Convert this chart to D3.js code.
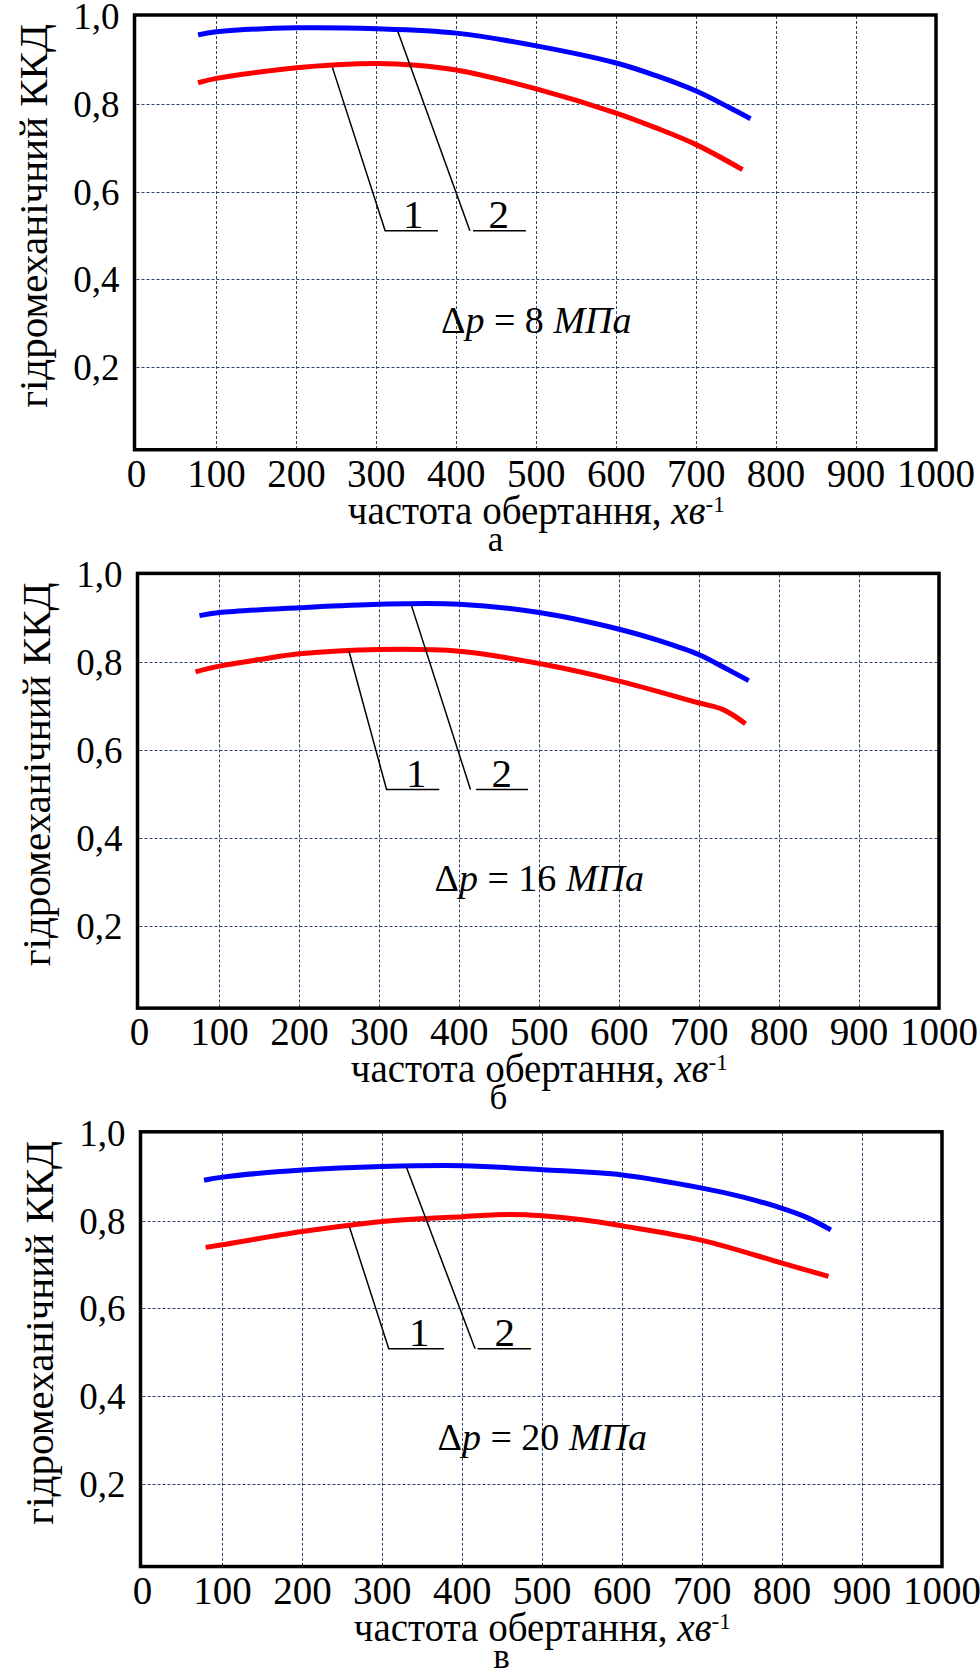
<!DOCTYPE html>
<html><head><meta charset="utf-8">
<script src="https://cdn.jsdelivr.net/npm/d3@7/dist/d3.min.js"></script>
<style>body{margin:0;background:#fff} svg{display:block}</style>
</head><body>
<svg id="chart" width="980" height="1676"></svg>
<script>
// ---- tick labels / categories ----
const xTicks = [0,100,200,300,400,500,600,700,800,900,1000];
const yTicks = [0.2,0.4,0.6,0.8,1.0];
const yTickLabels = ["0,2","0,4","0,6","0,8","1,0"];
const panelLabels = ["а","б","в"];
const pressureValues = ["8","16","20"];
const yAxisTitle = "гідромеханічний ККД";
const xAxisTitle = "частота обертання, ";
const xAxisUnit = "хв";

// ---- panel а: Δp = 8 MPa ----
const blueX_a = [77,100,200,300,400,500,600,650,700,742,768];
const blueY_a = [0.957,0.964,0.973,0.971,0.961,0.932,0.893,0.864,0.829,0.791,0.766];
const redX_a  = [77,100,200,250,300,350,400,500,600,650,700,758];
const redY_a  = [0.848,0.858,0.882,0.889,0.892,0.888,0.877,0.834,0.779,0.745,0.707,0.650];
const lead1_a = [[245,0.883],[311,0.511],[377,0.511]];
const lead2_a = [[327,0.964],[417,0.511]];
const lead2h_a = [[421,0.511],[487,0.511]];

// ---- panel б: Δp = 16 MPa ----
const blueX_b = [75,100,200,300,400,500,600,650,700,730,762];
const blueY_b = [0.906,0.913,0.924,0.932,0.932,0.913,0.875,0.849,0.817,0.789,0.758];
const redX_b  = [70,100,150,200,300,400,500,600,700,730,758];
const redY_b  = [0.778,0.791,0.806,0.819,0.829,0.825,0.797,0.757,0.707,0.692,0.660];
const lead1_b = [[262,0.825],[309,0.510],[375,0.510]];
const lead2_b = [[340,0.930],[414,0.510]];
const lead2h_b = [[421,0.510],[486,0.510]];

// ---- panel в: Δp = 20 MPa ----
const blueX_c = [77,100,200,300,400,500,600,700,750,800,830,861];
const blueY_c = [0.892,0.899,0.915,0.923,0.925,0.916,0.904,0.874,0.854,0.828,0.808,0.779];
const redX_c  = [79,100,200,300,400,460,500,550,600,700,800,858];
const redY_c  = [0.739,0.745,0.775,0.798,0.809,0.814,0.811,0.802,0.788,0.755,0.703,0.673];
const lead1_c = [[259,0.785],[308,0.508],[377,0.508]];
const lead2_c = [[330,0.922],[416,0.508]];
const lead2h_c = [[419,0.508],[486,0.508]];

const panels = [
  {bx:blueX_a, by:blueY_a, rx:redX_a, ry:redY_a, l1:lead1_a, l2:lead2_a, l2h:lead2h_a},
  {bx:blueX_b, by:blueY_b, rx:redX_b, ry:redY_b, l1:lead1_b, l2:lead2_b, l2h:lead2h_b},
  {bx:blueX_c, by:blueY_c, rx:redX_c, ry:redY_c, l1:lead1_c, l2:lead2_c, l2h:lead2h_c}
];

const FONT = "'Liberation Serif','Times New Roman',serif";
const GRID = "#2b4170";
const frameBottomValue = 0.012;

const svg = d3.select("#chart");
svg.append("rect").attr("width",980).attr("height",1676).attr("fill","#fff");

panels.forEach((p, i) => {
  const dx = 3 * i, dy = 558.4 * i;
  const x = d3.scaleLinear().domain([0, 1000]).range([136.5 + dx, 936 + dx]);
  const y = d3.scaleLinear().domain([0, 1]).range([455 + dy, 16 + dy]);
  const g = svg.append("g");

  // grid
  g.selectAll(".vg").data(xTicks.filter(t => t > 0 && t < 1000)).join("line")
    .attr("x1", d => Math.round(x(d)) + 0.5).attr("x2", d => Math.round(x(d)) + 0.5)
    .attr("y1", y(1)).attr("y2", y(frameBottomValue))
    .attr("stroke", GRID).attr("stroke-width", 1).attr("stroke-dasharray", "3,2");
  g.selectAll(".hg").data(yTicks.filter(t => t < 1)).join("line")
    .attr("x1", x(0)).attr("x2", x(1000))
    .attr("y1", d => Math.round(y(d)) + 0.5).attr("y2", d => Math.round(y(d)) + 0.5)
    .attr("stroke", GRID).attr("stroke-width", 1).attr("stroke-dasharray", "3,2");

  // frame
  g.append("rect")
    .attr("x", x(0) - 2).attr("y", y(1) - 1)
    .attr("width", x(1000) - x(0) + 2).attr("height", y(frameBottomValue) - y(1) + 1)
    .attr("fill", "none").attr("stroke", "#000").attr("stroke-width", 3.5);

  // curves
  const line = d3.line().x(d => x(d[0])).y(d => y(d[1])).curve(d3.curveCatmullRom.alpha(0.5));
  g.append("path").attr("d", line(p.rx.map((v, k) => [v, p.ry[k]])))
    .attr("fill", "none").attr("stroke", "#ff0000").attr("stroke-width", 5);
  g.append("path").attr("d", line(p.bx.map((v, k) => [v, p.by[k]])))
    .attr("fill", "none").attr("stroke", "#0000ff").attr("stroke-width", 5);

  // leader lines
  const pl = d3.line().x(d => x(d[0])).y(d => y(d[1]));
  [p.l1, p.l2, p.l2h].forEach(pts => {
    g.append("path").attr("d", pl(pts)).attr("fill", "none")
      .attr("stroke", "#000").attr("stroke-width", 1.5);
  });
  g.append("text").attr("x", x(346)).attr("y", y(p.l1[2][1]) - 3)
    .attr("text-anchor", "middle").attr("font-family", FONT).attr("font-size", 41).text("1");
  g.append("text").attr("x", x(453)).attr("y", y(p.l1[2][1]) - 3)
    .attr("text-anchor", "middle").attr("font-family", FONT).attr("font-size", 41).text("2");

  // y tick labels
  g.selectAll(".yt").data(yTicks).join("text")
    .attr("x", x(0) - 17).attr("y", d => y(d) + 13)
    .attr("text-anchor", "end").attr("font-family", FONT).attr("font-size", 37)
    .text((d, k) => yTickLabels[k]);

  // x tick labels
  g.selectAll(".xt").data(xTicks).join("text")
    .attr("x", d => x(d)).attr("y", y(frameBottomValue) + 37)
    .attr("text-anchor", "middle").attr("font-family", FONT).attr("font-size", 39)
    .text(d => d);

  // x axis title
  const xt = g.append("text").attr("x", x(500)).attr("y", y(0) + 69)
    .attr("text-anchor", "middle").attr("font-family", FONT).attr("font-size", 39);
  xt.append("tspan").text(xAxisTitle);
  xt.append("tspan").attr("font-style", "italic").text(xAxisUnit);
  xt.append("tspan").attr("font-size", 23).attr("dy", -12).text("-1");

  // panel label
  g.append("text").attr("x", x(449)).attr("y", y(0) + 96)
    .attr("text-anchor", "middle").attr("font-family", FONT).attr("font-size", 35)
    .text(panelLabels[i]);

  // Δp annotation
  const dp = g.append("text").attr("x", x(500)).attr("y", y(0.278))
    .attr("text-anchor", "middle").attr("font-family", FONT).attr("font-size", 38);
  dp.append("tspan").text("Δ");
  dp.append("tspan").attr("font-style", "italic").text("p");
  dp.append("tspan").text(" = " + pressureValues[i] + " ");
  dp.append("tspan").attr("font-style", "italic").text("МПа");

  // y axis title
  g.append("text")
    .attr("transform", `translate(${47 + dx},${216 + dy}) rotate(-90)`)
    .attr("text-anchor", "middle").attr("font-family", FONT).attr("font-size", 41)
    .text(yAxisTitle);
});
</script>
</body></html>
